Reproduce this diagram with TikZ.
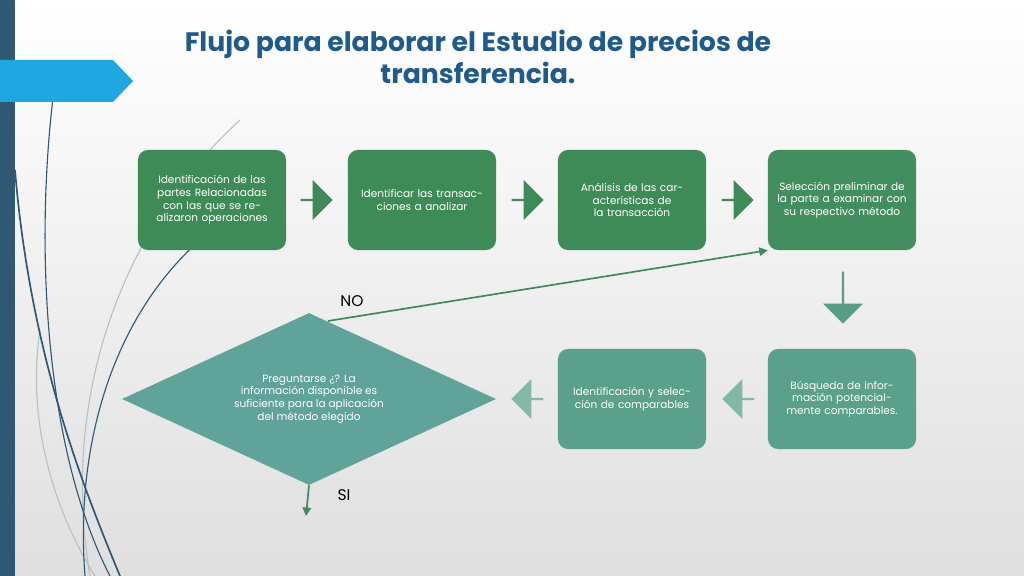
\documentclass[tikz,border=0pt]{standalone}
\usepackage{fontspec}
\setmainfont{Poppins}
\usetikzlibrary{positioning,shapes.geometric,shapes.arrows,arrows.meta}
\definecolor{barColor}{HTML}{2F5873}
\definecolor{bannerColor}{HTML}{1EA7E0}
\definecolor{titleColor}{HTML}{1F5A8A}
\definecolor{stepGreen}{HTML}{3E8B57}
\definecolor{stepTeal}{HTML}{5AA08A}
\definecolor{askTeal}{HTML}{60A39B}
\definecolor{curveGray}{HTML}{B9C0C6}
\tikzstyle{stepbox} = [fill=stepGreen, rounded corners=.25cm, minimum width=3.7cm, minimum height=2.5cm, text width=3.3cm, align=center, text=white, font=\fontsize{7.5}{9}\selectfont]
\tikzstyle{blockArrow} = [single arrow, fill=stepGreen, minimum height=.8cm, minimum width=1cm, single arrow head extend=.12cm, inner sep=0pt]
\tikzstyle{lineArrow} = [draw=stepGreen, very thick, -{Triangle[length=6pt,width=6pt]}]
\begin{document}
\begin{tikzpicture}[x=0.025cm, y=-0.025cm]
  \useasboundingbox (0,0) rectangle (1024,576);
  \shade[top color=white, bottom color=gray!25] (0,0) rectangle (1024,576);
  % decoration on the left
  \draw[curveGray, thick] (40,330) .. controls (25,430) and (60,520) .. (95,576);
  \draw[curveGray, thick] (240,120) .. controls (120,230) and (60,400) .. (90,576);
  \draw[barColor, thick] (53,98) .. controls (35,250) and (45,450) .. (110,576);
  \draw[barColor, very thick] (15,170) .. controls (30,350) and (80,480) .. (120,576);
  \draw[barColor, thick] (200,240) .. controls (110,320) and (75,450) .. (85,576);
  \fill[barColor] (0,0) rectangle (15,576);
  \fill[bannerColor] (0,60) -- (113,60) -- (133,81) -- (113,102) -- (0,102) -- cycle;
  % title
  \node[text=titleColor, font=\fontsize{19}{23}\selectfont\bfseries, align=center] (title) at (478,57)
    {Flujo para elaborar el Estudio de precios de\\transferencia.};
  % top row
  \node[stepbox] (partes) at (212,200) {Identificación de las partes Relacionadas con las que se realizaron operaciones};
  \node[stepbox] (transac) at (422,200) {Identificar las transacciones a analizar};
  \node[stepbox] (analisis) at (632,200) {Análisis de las características de la transacción};
  \node[stepbox, fill=stepGreen!85!stepTeal] (seleccion) at (842,200) {Selección preliminar de la parte a examinar con su respectivo método};
  % bottom row
  \node[stepbox, fill=stepTeal] (busqueda) at (842,399) {Búsqueda de información potencialmente comparables.};
  \node[stepbox, fill=stepTeal] (ident) at (632,399) {Identificación y selección de comparables};
  \node[diamond, fill=askTeal, minimum width=9.35cm, minimum height=4.3cm, aspect=2.2, inner sep=0pt] (pregunta) at (309,399) {};
  \node[text=white, align=center, font=\fontsize{7.5}{9}\selectfont] (preguntaText) at (pregunta) {Preguntarse ¿? La\\información disponible es\\suficiente para la aplicación\\del método elegido};
  % block arrows
  \node[blockArrow] (a1) at (316,200) {};
  \node[blockArrow] (a2) at (527,200) {};
  \node[blockArrow] (a3) at (737,200) {};
  \node[blockArrow, fill=stepTeal!90!stepGreen, shape border rotate=270, minimum height=1.3cm] (a4) at (843,297) {};
  \node[blockArrow, fill=stepTeal!75!white, shape border rotate=180] (a5) at (739,399) {};
  \node[blockArrow, fill=stepTeal!75!white, shape border rotate=180] (a6) at (528,399) {};
  % decision exits
  \coordinate (noStart) at (328,321);
  \coordinate (siEnd) at (306,516);
  \draw[lineArrow] (noStart) -- (seleccion.south west);
  \draw[lineArrow] (pregunta.south) -- (siEnd);
  \node[font=\fontsize{11}{13}\selectfont] (no) at (352,301) {NO};
  \node[font=\fontsize{11}{13}\selectfont] (si) at (344,495) {SI};
\end{tikzpicture}
\end{document}
